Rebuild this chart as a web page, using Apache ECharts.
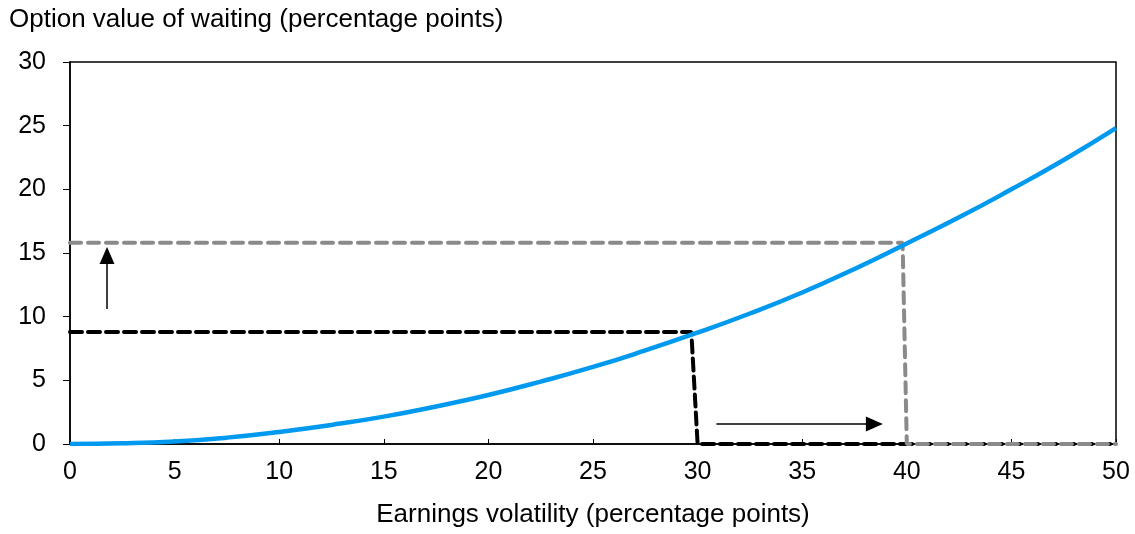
<!DOCTYPE html>
<html><head><meta charset="utf-8">
<script src="https://cdn.jsdelivr.net/npm/echarts@6/dist/echarts.min.js"></script>
<style>html,body{margin:0;padding:0;background:#fff}#c{width:1135px;height:534px}</style>
</head><body><div id="c"></div>
<script>
const volatility = [0,2.5,5,7.5,10,12.5,15,17.5,20,22.5,25,27.5,30,32.5,35,37.5,40,42.5,45,47.5,50];
const optionValue = [0,0.05,0.2,0.5,0.95,1.5,2.15,2.95,3.85,4.9,6.05,7.35,8.75,10.25,11.9,13.75,15.75,17.8,20.0,22.3,24.8];
const blackX = [0,29.7,30,50];
const blackY = [8.8,8.8,0,0];
const grayX = [0,39.8,40,50];
const grayY = [15.8,15.8,0,0];
const arrowUp = [[1.77,10.6],[1.77,14.8]];
const arrowRight = [[30.9,1.57],[38.45,1.57]];
const xTicks = [0,5,10,15,20,25,30,35,40,45,50];
const yTicks = [0,5,10,15,20,25,30];

const zip = (a,b)=>a.map((v,i)=>[v,b[i]]);
const font = 'Liberation Sans, Arial, sans-serif';
const chart = echarts.init(document.getElementById('c'));
chart.setOption({
  animation:false,
  grid:{left:70,right:19,top:62,bottom:90,show:true,borderColor:'#000',borderWidth:1.5,backgroundColor:'transparent'},
  xAxis:{type:'value',min:0,max:50,interval:5,
    name:'Earnings volatility (percentage points)',nameLocation:'middle',nameGap:58,
    nameTextStyle:{fontFamily:font,fontSize:26,color:'#000'},
    axisLine:{lineStyle:{color:'#000',width:1.5}},
    axisTick:{inside:true,length:5,lineStyle:{color:'#000'}},
    axisLabel:{fontFamily:font,fontSize:25,color:'#000',margin:16},
    splitLine:{show:false}},
  yAxis:{type:'value',min:0,max:30,interval:5,
    axisLine:{show:true,lineStyle:{color:'#000',width:1.5}},
    axisTick:{show:true,inside:false,length:7,lineStyle:{color:'#000'}},
    axisLabel:{fontFamily:font,fontSize:25,color:'#000',margin:24},
    splitLine:{show:false}},
  graphic:[{type:'text',left:9,top:7,style:{text:'Option value of waiting (percentage points)',font:'26px '+font,fill:'#000'}}],
  series:[
    {type:'line',data:zip(blackX,blackY),symbol:'none',z:3,
      lineStyle:{color:'#000',width:4,type:[12,6],cap:'round'}},
    {type:'line',data:zip(grayX,grayY),symbol:'none',z:4,
      lineStyle:{color:'#8a8a8a',width:4,type:[11,7],cap:'round'}},
    {type:'line',data:zip(volatility,optionValue),symbol:'none',smooth:true,z:5,
      lineStyle:{color:'#0099f0',width:4.5}},
    {type:'line',data:[],z:6,
      markLine:{silent:true,symbol:['none','triangle'],symbolSize:[15,17],label:{show:false},
        lineStyle:{color:'#000',width:1.5,type:'solid'},
        data:[
          [{coord:arrowUp[0]},{coord:arrowUp[1]}],
          [{coord:arrowRight[0]},{coord:arrowRight[1]}]
        ]}}
  ]
});
</script></body></html>
